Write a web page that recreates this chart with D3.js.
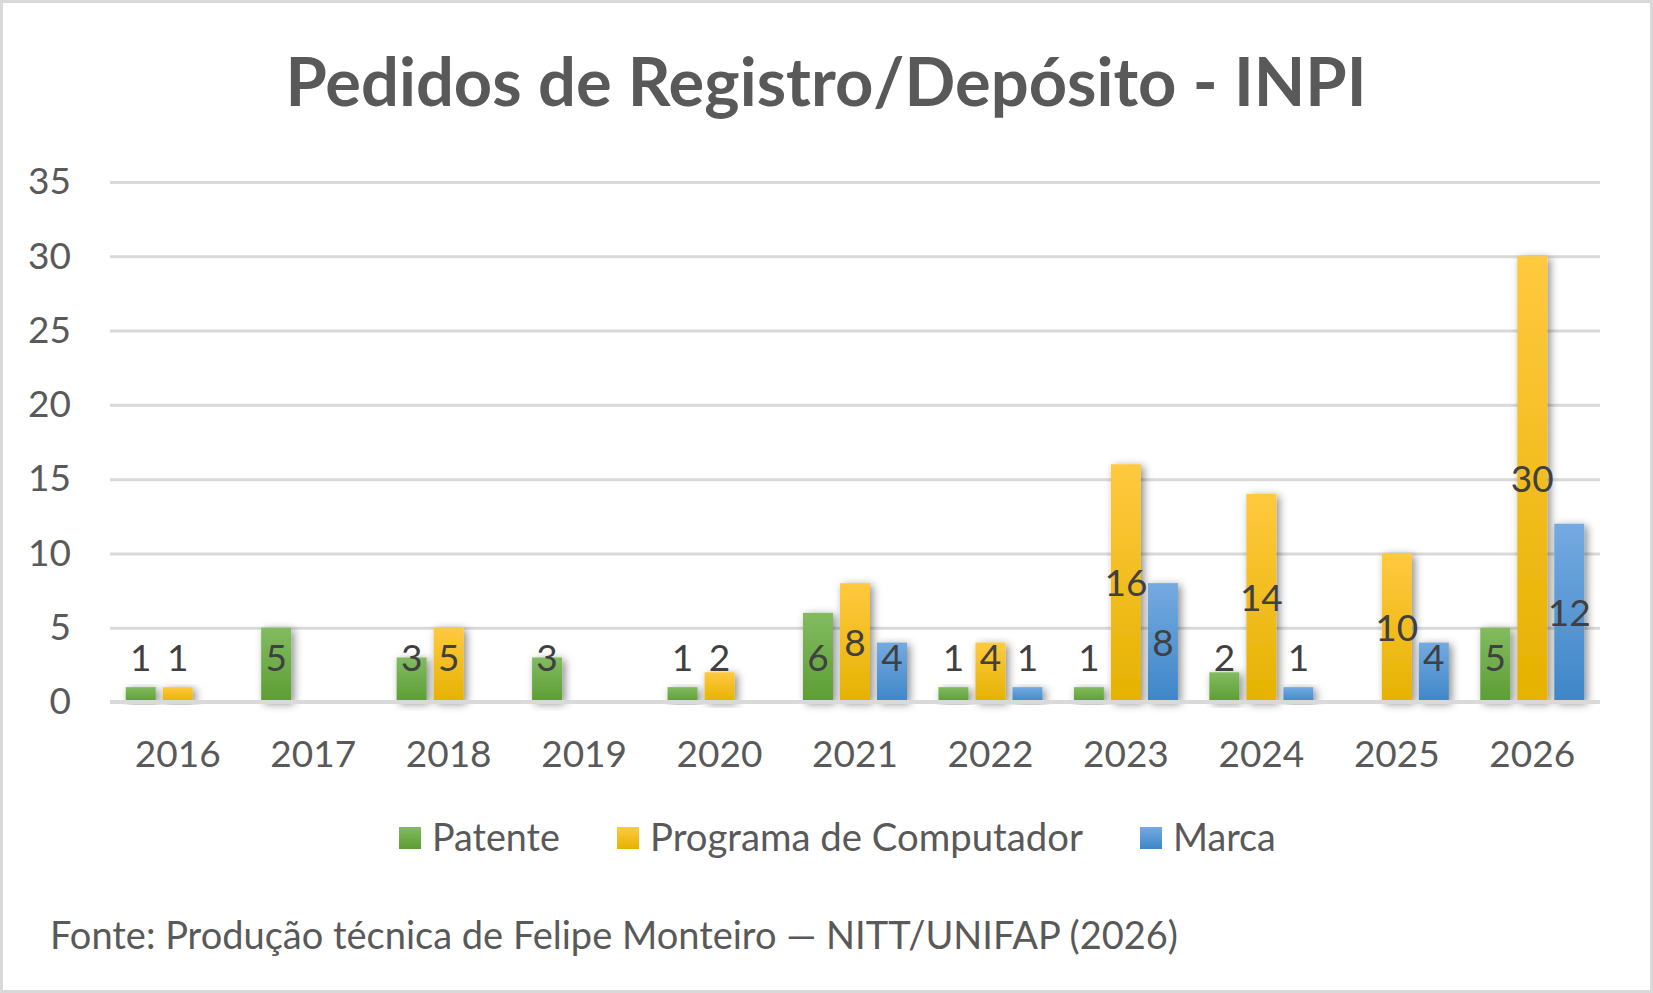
<!DOCTYPE html>
<html>
<head>
<meta charset="utf-8">
<script src="https://cdn.jsdelivr.net/npm/d3@7"></script>
<style>
  body { margin: 0; background: #fff; }
  text { font-family: Lato, "Open Sans", sans-serif; }
</style>
</head>
<body>
<svg id="chart" width="1653" height="993"></svg>
<script>
// data
const years = ['2016', '2017', '2018', '2019', '2020', '2021', '2022', '2023', '2024', '2025', '2026']
const seriesNames = ['Patente', 'Programa de Computador', 'Marca']
const patente = [1, 5, 3, 3, 1, 6, 1, 1, 2, null, 5]
const programa = [1, null, 5, null, 2, 8, 4, 16, 14, 10, 30]
const marca = [null, null, null, null, null, 4, 1, 8, 1, 4, 12]
const yTicks = [0, 5, 10, 15, 20, 25, 30, 35]

const seriesValues = [patente, programa, marca]
const colors = [
    { top: '#82bb60', bottom: '#5c9d33' },
    { top: '#ffc93f', bottom: '#e5b200' },
    { top: '#74aae0', bottom: '#3e86c8' }
]
// text widths measured on the reference, used to size the text
const legendWidths = [128, 433, 103]

const W = 1653, H = 993
const plot = { left: 110, right: 1600, top: 182, bottom: 702 }

const svg = d3.select('#chart')
const defs = svg.append('defs')

seriesNames.forEach((s, i) => {
    const g = defs.append('linearGradient')
        .attr('id', 'grad' + i)
        .attr('x1', 0).attr('y1', 0).attr('x2', 0).attr('y2', 1)
    g.append('stop').attr('offset', '0%').attr('stop-color', colors[i].top)
    g.append('stop').attr('offset', '100%').attr('stop-color', colors[i].bottom)
})

const shadow = defs.append('filter').attr('id', 'shadow')
    .attr('x', '-50%').attr('y', '-20%').attr('width', '200%').attr('height', '140%')
shadow.append('feDropShadow')
    .attr('dx', 3).attr('dy', 2).attr('stdDeviation', 4.5)
    .attr('flood-color', '#000').attr('flood-opacity', 0.45)

// background + border
svg.append('rect')
    .attr('x', 1.5).attr('y', 1.5)
    .attr('width', W - 3).attr('height', H - 3)
    .attr('fill', '#fff').attr('stroke', '#d9d9d9').attr('stroke-width', 3)

// title
svg.append('text')
    .attr('class', 'fit')
    .attr('data-w', 1082)
    .attr('x', 826).attr('y', 106)
    .attr('text-anchor', 'middle')
    .attr('font-size', 66).attr('font-weight', 700)
    .attr('fill', '#595959')
    .text('Pedidos de Registro/Depósito - INPI')

const x0 = d3.scaleBand().domain(years).range([plot.left, plot.right])
const x1 = d3.scaleBand().domain(seriesNames).range([-52, 52]).paddingInner(0.19).paddingOuter(0)
const y = d3.scaleLinear().domain([0, 35]).range([plot.bottom, plot.top])

// gridlines + y labels
const yAxis = svg.append('g')
    .attr('transform', `translate(${plot.left},0)`)
    .call(d3.axisLeft(y).tickValues(yTicks).tickSizeInner(-(plot.right - plot.left)).tickSizeOuter(0).tickPadding(39))
yAxis.select('.domain').remove()
yAxis.selectAll('line').attr('stroke', '#d9d9d9').attr('stroke-width', 3)
yAxis.selectAll('text')
    .attr('font-size', 37).attr('fill', '#595959')
    .attr('font-family', 'Lato, sans-serif')

// bars
const rows = years.map((yr, i) => ({ year: yr, vals: seriesValues.map((s, k) => ({ k, name: seriesNames[k], v: s[i] })) }))

const groups = svg.append('g').selectAll('g')
    .data(rows)
    .enter()
    .append('g')
        .attr('transform', d => `translate(${x0(d.year) + x0.bandwidth() / 2},0)`)

groups.selectAll('rect')
    .data(d => d.vals.filter(e => e.v != null))
    .enter()
    .append('rect')
        .attr('x', d => x1(d.name))
        .attr('width', x1.bandwidth())
        .attr('y', d => y(d.v))
        .attr('height', d => y(0) - y(d.v))
        .attr('fill', d => `url(#grad${d.k})`)
        .attr('filter', 'url(#shadow)')

// x axis line over the bars
const xAxis = svg.append('g')
    .attr('transform', `translate(0,${plot.bottom})`)
    .call(d3.axisBottom(x0).tickSize(0).tickPadding(39))
xAxis.select('.domain').attr('stroke', '#d9d9d9').attr('stroke-width', 4)
    .attr('d', `M${plot.left},0H${plot.right}`)
xAxis.selectAll('text')
    .attr('font-size', 37).attr('fill', '#595959')
    .attr('font-family', 'Lato, sans-serif')

// data labels (centered, kept clear of the axis)
groups.selectAll('text.lbl')
    .data(d => d.vals.filter(e => e.v != null))
    .enter()
    .append('text')
        .attr('class', 'lbl')
        .attr('x', d => x1(d.name) + x1.bandwidth() / 2)
        .attr('y', d => Math.min(y(d.v / 2), y(3)))
        .attr('dy', '0.36em')
        .attr('text-anchor', 'middle')
        .attr('font-size', 37)
        .attr('fill', '#404040')
        .text(d => d.v)

// legend
const legend = svg.append('g')
let lx = 399
seriesNames.forEach((s, i) => {
    legend.append('rect')
        .attr('x', lx).attr('y', 827)
        .attr('width', 22).attr('height', 22)
        .attr('fill', `url(#grad${i})`)
    legend.append('text')
        .attr('class', 'fit')
        .attr('data-w', legendWidths[i])
        .attr('x', lx + 33).attr('y', 851)
        .attr('font-size', 37).attr('fill', '#595959')
        .text(s)
    lx += 33 + legendWidths[i] + 57
})

// source note
svg.append('text')
    .attr('class', 'fit')
    .attr('data-w', 1128)
    .attr('x', 50).attr('y', 949)
    .attr('font-size', 37).attr('fill', '#595959')
    .text('Fonte: Produção técnica de Felipe Monteiro — NITT/UNIFAP (2026)')

// scale the long texts to the widths in the reference
svg.selectAll('text.fit').each(function () {
    const el = d3.select(this)
    const target = +el.attr('data-w')
    const fs = +el.attr('font-size')
    const w = this.getComputedTextLength()
    if (w > 0) el.attr('font-size', (fs * target / w).toFixed(1))
})
</script>
</body>
</html>
